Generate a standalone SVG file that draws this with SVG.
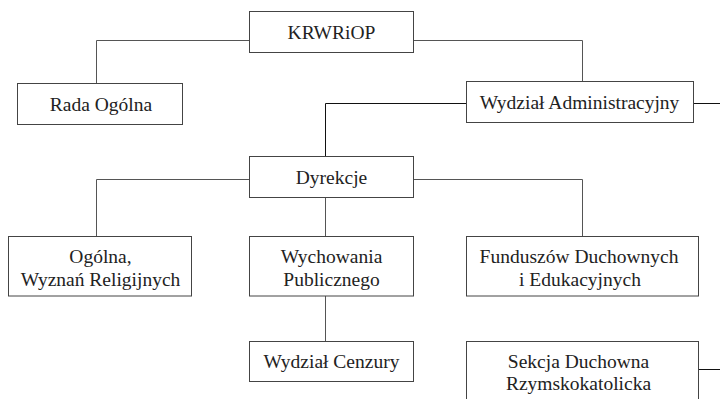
<svg xmlns="http://www.w3.org/2000/svg" width="720" height="399" viewBox="0 0 720 399">
<style>
  .box { fill: #fff; stroke: #444; stroke-width: 1; }
  .t { font-family: "Liberation Serif", "Times New Roman", serif; font-size: 19.5px; fill: #222; text-anchor: middle; }
  .c { fill: none; stroke: #555; stroke-width: 1; }
  .k { fill: none; stroke: #111; stroke-width: 1; }
</style>
<rect width="720" height="399" fill="#fff"/>
<g id="connectors">
  <path class="c" d="M249.5 40.5 H96.5 V83.5"/>
  <path class="c" d="M413.5 40.5 H582.5 V81.5"/>
  <path class="k" d="M466.5 103.5 H325.5 V156.5"/>
  <path class="k" d="M693.5 103.5 H720"/>
  <path class="c" d="M249.5 179.5 H96.5 V236.5"/>
  <path class="c" d="M413.5 179.5 H582.5 V236.5"/>
  <path class="c" d="M325.5 197.5 V236.5"/>
  <path class="c" d="M325.5 296 V341.5"/>
  <path class="k" d="M698.5 369.5 H720"/>
</g>
<g id="krwriop">
  <rect class="box" x="249.5" y="11.5" width="164" height="41"/>
  <text class="t" x="331.5" y="38.5">KRWRiOP</text>
</g>
<g id="rada">
  <rect class="box" x="17.5" y="83.5" width="165" height="41"/>
  <text class="t" x="101" y="110.5">Rada Ogólna</text>
</g>
<g id="wydzial-adm">
  <rect class="box" x="466.5" y="81.5" width="227" height="41"/>
  <text class="t" x="579.5" y="108.5">Wydział Administracyjny</text>
</g>
<g id="dyrekcje">
  <rect class="box" x="249.5" y="156.5" width="164" height="41"/>
  <text class="t" x="331.5" y="183.5">Dyrekcje</text>
</g>
<g id="ogolna">
  <rect class="box" x="8.5" y="236.5" width="183" height="59.5"/>
  <text class="t" x="100.5" y="263.3">Ogólna,</text>
  <text class="t" x="100.5" y="286">Wyznań Religijnych</text>
</g>
<g id="wychowania">
  <rect class="box" x="249.5" y="236.5" width="164" height="59.5"/>
  <text class="t" x="331.5" y="263.3">Wychowania</text>
  <text class="t" x="331.5" y="286">Publicznego</text>
</g>
<g id="fundusze">
  <rect class="box" x="466.5" y="236.5" width="232" height="59.5"/>
  <text class="t" x="579" y="263.3">Funduszów Duchownych</text>
  <text class="t" x="580" y="285.5">i Edukacyjnych</text>
</g>
<g id="cenzura">
  <rect class="box" x="249.5" y="341.5" width="164" height="40"/>
  <text class="t" x="331.5" y="368">Wydział Cenzury</text>
</g>
<g id="sekcja">
  <rect class="box" x="466.5" y="341.5" width="232" height="70"/>
  <text class="t" x="578.5" y="368.3">Sekcja Duchowna</text>
  <text class="t" x="578.5" y="390">Rzymskokatolicka</text>
</g>
</svg>
